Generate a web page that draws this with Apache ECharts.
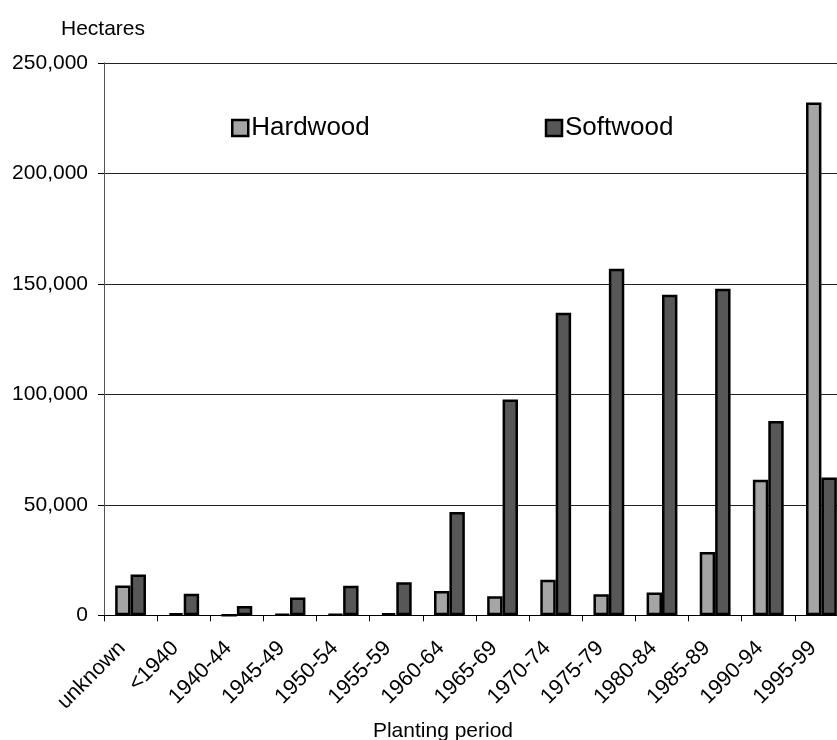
<!DOCTYPE html>
<html>
<head>
<meta charset="utf-8">
<script src="https://cdn.jsdelivr.net/npm/echarts@6/dist/echarts.min.js"></script>
<style>
  html, body { margin: 0; padding: 0; background: #fff; }
  #chart { width: 837px; height: 740px; }
</style>
</head>
<body>
<div id="chart"></div>
<script>
// Planting periods along the x axis
var periods = ['unknown', '<1940', '1940-44', '1945-49', '1950-54', '1955-59', '1960-64',
  '1965-69', '1970-74', '1975-79', '1980-84', '1985-89', '1990-94', '1995-99'];

// Area planted, hectares
var hardwood = [13500, 900, 0, 500, 500, 900, 11000, 8600, 16100, 9500, 10300, 28600, 61300, 232000];
var softwood = [18500, 9800, 4200, 8100, 13400, 15000, 46700, 97700, 136900, 156800, 145000, 147800, 87900, 62300];

// Value axis ticks
var yTicks = [0, 50000, 100000, 150000, 200000, 250000];

var FONT = 'Liberation Sans, Arial, sans-serif';

function fmt(v) {
  return String(v).replace(/\B(?=(\d{3})+(?!\d))/g, ',');
}

var chart = echarts.init(document.getElementById('chart'), null, { renderer: 'canvas' });

chart.setOption({
  animation: false,
  backgroundColor: '#ffffff',
  textStyle: { fontFamily: FONT, color: '#000' },
  title: {
    text: 'Hectares',
    left: 56,
    top: 14,
    textStyle: { fontFamily: FONT, fontSize: 21, fontWeight: 'normal', color: '#000' }
  },
  legend: {
    left: 226,
    top: 110,
    itemWidth: 16,
    itemHeight: 16,
    itemGap: 175,
    icon: 'rect',
    textStyle: { fontFamily: FONT, fontSize: 26, color: '#000', padding: [0, 0, 0, -2] },
    itemStyle: { borderColor: '#000', borderWidth: 2.5 },
    data: ['Hardwood', 'Softwood']
  },
  grid: {
    left: 104,
    right: -11,
    top: 62.8,
    bottom: 124.7,
    containLabel: false,
    outerBoundsMode: 'none'
  },
  xAxis: {
    type: 'category',
    data: periods,
    name: 'Planting period',
    nameLocation: 'middle',
    nameGap: 105,
    nameTextStyle: { fontFamily: FONT, fontSize: 21, color: '#000', padding: [0, 66, 0, 0] },
    axisLine: { show: true, lineStyle: { color: '#000', width: 1 } },
    axisTick: { show: true, length: 6, lineStyle: { color: '#000' } },
    axisLabel: {
      interval: 0,
      rotate: 45,
      margin: 21,
      padding: [0, 12, 0, 0],
      fontFamily: FONT,
      fontSize: 21.5,
      color: '#000'
    },
    splitLine: { show: false }
  },
  yAxis: {
    type: 'value',
    min: yTicks[0],
    max: yTicks[yTicks.length - 1],
    interval: yTicks[1] - yTicks[0],
    axisLine: { show: true, lineStyle: { color: '#555', width: 1 } },
    axisTick: { show: true, length: 6, lineStyle: { color: '#000' } },
    axisLabel: {
      margin: 16,
      fontFamily: FONT,
      fontSize: 21,
      color: '#000',
      formatter: function (v) { return fmt(v); }
    },
    splitLine: { show: true, lineStyle: { color: '#222', width: 1 } }
  },
  series: [
    {
      name: 'Hardwood',
      type: 'bar',
      data: hardwood,
      barGap: '0%',
      barCategoryGap: '42%',
      itemStyle: { color: '#a5a5a5', borderColor: '#000', borderWidth: 2.5 }
    },
    {
      name: 'Softwood',
      type: 'bar',
      data: softwood,
      barGap: '0%',
      barCategoryGap: '42%',
      itemStyle: { color: '#575757', borderColor: '#000', borderWidth: 2.5 }
    }
  ]
});
</script>
</body>
</html>
